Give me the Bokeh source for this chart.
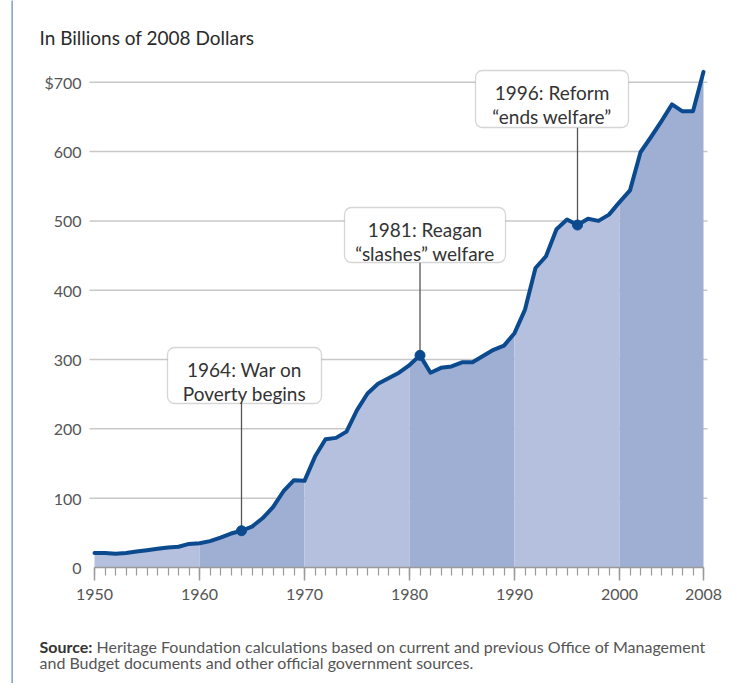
from bokeh.plotting import figure
from bokeh.models import Range1d, FixedTicker, Label, BoxAnnotation
from bokeh.embed import file_html
from bokeh.resources import INLINE

# ---- data ----
years = list(range(1950, 2009))
spending = [21, 21, 20, 21, 23, 25, 27, 29, 30, 34,
            35, 38, 43, 49, 53, 59, 71, 87, 110, 126,
            125, 160, 185, 187, 196, 227, 251, 265, 273, 281,
            292, 306, 281, 288, 290, 296, 296, 305, 314, 320,
            338, 372, 432, 449, 488, 502, 494, 503, 500, 509,
            527, 544, 599, 621, 644, 668, 658, 658, 715]

band_starts = [1950, 1960, 1970, 1980, 1990, 2000]
band_ends = [1960, 1970, 1980, 1990, 2000, 2008]

y_ticks = [0, 100, 200, 300, 400, 500, 600, 700]
y_tick_labels = ["0", "100", "200", "300", "400", "500", "600", "$700"]
grid_levels = [100, 200, 300, 400, 500, 600, 700]
x_ticks = [1950, 1960, 1970, 1980, 1990, 2000, 2008]
x_tick_labels = ["1950", "1960", "1970", "1980", "1990", "2000", "2008"]

event_years = [1964, 1981, 1996]
event_line1 = ["1964: War on", "1981: Reagan", "1996: Reform"]
event_line2 = ["Poverty begins", "\u201cslashes\u201d welfare", "\u201cends welfare\u201d"]

title_text = "In Billions of 2008 Dollars"
source_bold = "Source:"
source_line1 = "Heritage Foundation calculations based on current and previous Office of Management"
source_line2 = "and Budget documents and other official government sources."

# ---- layout / style ----
FONT = "Lato"
LINE_COLOR = "#0b4a8e"
BAND_COLORS = ["#b4c0dd", "#9eafd3"]

W, H = 723, 683
PAGE_OFF = 1                 # observed offset of canvas in the picture
PX_X = 10.5                  # pixels per year
PX_Y = 513 / 740             # pixels per dollar-billion
X_START = 1950 - (95 - PAGE_OFF) / PX_X
X_END = X_START + W / PX_X
Y_START = -(H - (568 - PAGE_OFF)) / PX_Y
Y_END = Y_START + H / PX_Y


def dx(ref_x):  # picture x -> data x
    return X_START + (ref_x - PAGE_OFF) / PX_X


def dy(ref_y):  # picture y -> data y
    return Y_END - (ref_y - PAGE_OFF) / PX_Y


PLOT_LEFT, PLOT_RIGHT = dx(90), dx(708)

# callout boxes (picture pixels: left, right, top, bottom)
boxes_px = [(168, 322, 348, 404), (345, 506, 208, 263), (476, 629, 71, 128)]

p = figure(width=W, height=H, output_backend="svg", toolbar_location=None,
           x_range=Range1d(X_START, X_END), y_range=Range1d(Y_START, Y_END),
           min_border=0, min_border_left=0, min_border_right=0,
           min_border_top=0, min_border_bottom=0)
p.outline_line_color = None
p.background_fill_color = "white"
p.border_fill_color = "white"
p.xgrid.visible = False
p.ygrid.visible = False

# horizontal grid lines
p.segment(x0=[PLOT_LEFT] * len(grid_levels), x1=[PLOT_RIGHT] * len(grid_levels),
          y0=grid_levels, y1=grid_levels, line_color="#c8c8c8",
          line_width=1.5, level="underlay")

# bands of area
for i, (s, e) in enumerate(zip(band_starts, band_ends)):
    xs = [y for y in years if s <= y <= e]
    vs = [spending[years.index(y)] for y in xs]
    p.varea(x=xs, y1=[0] * len(xs), y2=vs, fill_color=BAND_COLORS[i % 2],
            fill_alpha=1.0)

# callout connector lines
ev_vals = [spending[years.index(y)] for y in event_years]
p.segment(x0=event_years, y0=ev_vals, x1=event_years,
          y1=[dy(b[3]) for b in boxes_px],
          line_color="#555555", line_width=1.3)

# main line
p.line(years, spending, line_color=LINE_COLOR, line_width=4,
       line_join="round", line_cap="round")
p.scatter(event_years, ev_vals, size=10, fill_color=LINE_COLOR,
          line_color=LINE_COLOR)

# callout boxes + text
for (l, r, t, b), t1, t2 in zip(boxes_px, event_line1, event_line2):
    p.add_layout(BoxAnnotation(left=dx(l), right=dx(r), bottom=dy(b), top=dy(t),
                               fill_color="white", fill_alpha=1.0,
                               line_color="#777777", line_width=1.3,
                               border_radius=7))
    cx = dx((l + r) / 2)
    for txt, off in ((t1, 22), (t2, 46)):
        p.add_layout(Label(x=cx, y=dy(t + off), text=txt,
                           text_align="center", text_baseline="alphabetic",
                           text_font=FONT, text_font_size="19px",
                           text_color="#333333"))

# axes (fixed inside the frame)
p.xaxis.fixed_location = 0
p.xaxis.ticker = FixedTicker(ticks=x_ticks, minor_ticks=years)
p.xaxis.major_label_overrides = {t: s for t, s in zip(x_ticks, x_tick_labels)}
p.xaxis.bounds = (1950, 2008)
p.xaxis.axis_line_color = "#9a9a9a"
p.xaxis.axis_line_width = 1.5
p.xaxis.major_tick_line_color = "#9a9a9a"
p.xaxis.major_tick_line_width = 1.5
p.xaxis.minor_tick_line_color = "#9a9a9a"
p.xaxis.minor_tick_line_width = 1.2
p.xaxis.major_tick_in = 0
p.xaxis.major_tick_out = 13
p.xaxis.minor_tick_in = 0
p.xaxis.minor_tick_out = 8
p.xaxis.major_label_standoff = 8
p.xaxis.major_label_text_font = FONT
p.xaxis.major_label_text_font_size = "16px"
p.xaxis.major_label_text_color = "#555555"

p.yaxis.fixed_location = PLOT_LEFT
p.yaxis.ticker = FixedTicker(ticks=y_ticks)
p.yaxis.major_label_overrides = {t: s for t, s in zip(y_ticks, y_tick_labels)}
p.yaxis.axis_line_color = None
p.yaxis.major_tick_line_color = None
p.yaxis.minor_tick_line_color = None
p.yaxis.major_tick_out = 0
p.yaxis.major_tick_in = 0
p.yaxis.major_label_standoff = 8
p.yaxis.major_label_text_font = FONT
p.yaxis.major_label_text_font_size = "16px"
p.yaxis.major_label_text_color = "#555555"

# title and source
p.add_layout(Label(x=dx(40), y=dy(38), text=title_text, text_font=FONT,
                   text_font_size="19px", text_color="#2a2a2a",
                   text_baseline="alphabetic"))
p.add_layout(Label(x=dx(40), y=dy(647), text=source_bold, text_font=FONT,
                   text_font_style="bold", text_font_size="16px",
                   text_color="#333333", text_baseline="alphabetic"))
p.add_layout(Label(x=dx(97), y=dy(647), text=source_line1, text_font=FONT,
                   text_font_size="16px", text_color="#555555",
                   text_baseline="alphabetic"))
p.add_layout(Label(x=dx(40), y=dy(663), text=source_line2, text_font=FONT,
                   text_font_size="16px", text_color="#555555",
                   text_baseline="alphabetic"))

# thin blue page rule on the left
p.add_layout(BoxAnnotation(left=dx(12), right=dx(13.2), bottom=dy(699), top=dy(0),
                           fill_color="#5b86c5", fill_alpha=1.0, line_color=None))

open("out.html", "w").write(file_html(p, INLINE))
